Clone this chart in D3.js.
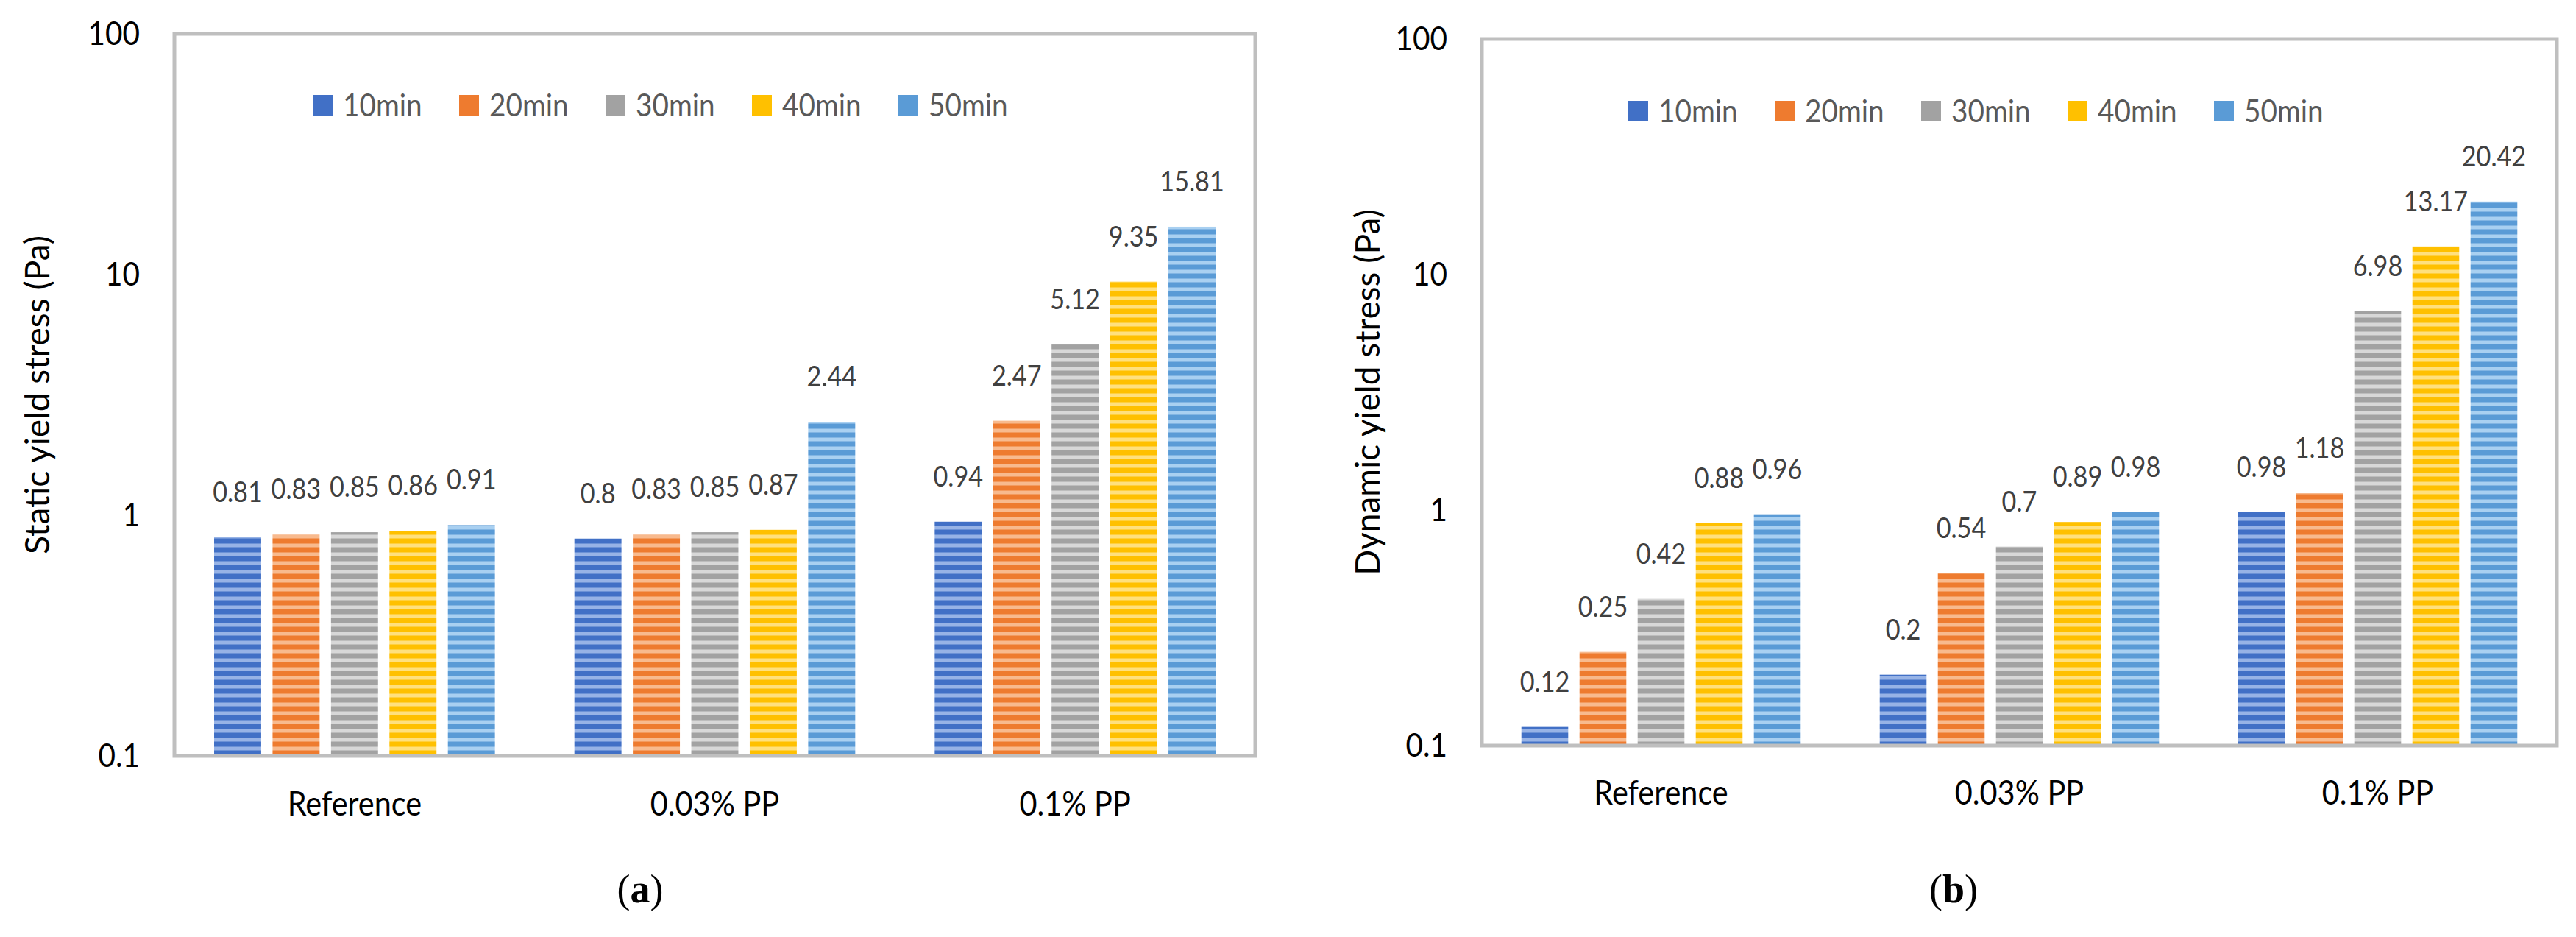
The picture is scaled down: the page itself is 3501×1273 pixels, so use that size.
<!DOCTYPE html>
<html><head><meta charset="utf-8">
<script src="https://cdn.jsdelivr.net/npm/d3@7"></script>
<style>
html,body{margin:0;padding:0;background:#fff;}
svg{display:block;}
text{font-family:Lato,"Open Sans",sans-serif;}
</style></head><body>
<svg id="chart" width="3501" height="1273"></svg>
<script>
// ---------- data ----------
const categories = ["Reference", "0.03% PP", "0.1% PP"];
const seriesNames = ["10min", "20min", "30min", "40min", "50min"];
const yTickValues = [0.1, 1, 10, 100];
// (a) static yield stress (Pa), one array per series (values per category)
const static10min = [0.81, 0.8, 0.94];
const static20min = [0.83, 0.83, 2.47];
const static30min = [0.85, 0.85, 5.12];
const static40min = [0.86, 0.87, 9.35];
const static50min = [0.91, 2.44, 15.81];
// (b) dynamic yield stress (Pa)
const dynamic10min = [0.12, 0.2, 0.98];
const dynamic20min = [0.25, 0.54, 1.18];
const dynamic30min = [0.42, 0.7, 6.98];
const dynamic40min = [0.88, 0.89, 13.17];
const dynamic50min = [0.96, 0.98, 20.42];
const yTitles = ["Static yield stress (Pa)", "Dynamic yield stress (Pa)"];
const captionLetters = ["a", "b"];

// ---------- style ----------
const darkCols  = ["#4170C6", "#EE7B2F", "#A2A2A2", "#FFC000", "#5A9BD6"];
const lightCols = ["#97B3E6", "#F8BA8E", "#D8D8D8", "#FFE07E", "#A9D0F1"];
const frameCol = "#BFBFBF";

const panels = [
  { series: [static10min, static20min, static30min, static40min, static50min],
    title: yTitles[0], cap: captionLetters[0],
    l: 237, t: 46, r: 1706, b: 1027, legX: 425, legY: 143, catY: 1108,
    titleX: 67, capX: 870 },
  { series: [dynamic10min, dynamic20min, dynamic30min, dynamic40min, dynamic50min],
    title: yTitles[1], cap: captionLetters[1],
    l: 2014, t: 53, r: 3475, b: 1013, legX: 2213, legY: 151, catY: 1093,
    titleX: 1875, capX: 2655 }
];

const svg = d3.select("#chart");
svg.append("rect").attr("width", 3501).attr("height", 1273).attr("fill", "#fff");

// stripe patterns
const defs = svg.append("defs");
seriesNames.forEach((s, i) => {
  const p = defs.append("pattern").attr("id", "pat" + i)
    .attr("patternUnits", "userSpaceOnUse").attr("width", 12).attr("height", 12);
  p.append("rect").attr("width", 12).attr("height", 12).attr("fill", darkCols[i]);
  p.append("rect").attr("y", 6.5).attr("width", 12).attr("height", 5).attr("fill", lightCols[i]);
});

panels.forEach(P => {
  const g = svg.append("g");
  const y = d3.scaleLog().domain([0.1, 100]).range([P.b, P.t]);
  const x0 = d3.scaleBand().domain(categories).range([P.l, P.r]).padding(0);
  const x1 = d3.scaleBand().domain(seriesNames).range([0, x0.bandwidth()])
    .paddingInner(0.195).paddingOuter(0.68);

  // bars
  seriesNames.forEach((s, si) => {
    const vals = P.series[si];
    const sg = g.append("g");
    sg.selectAll("rect").data(categories).join("rect")
      .attr("x", c => x0(c) + x1(s))
      .attr("y", (c, ci) => y(vals[ci]))
      .attr("width", x1.bandwidth())
      .attr("height", (c, ci) => y(0.1) - y(vals[ci]))
      .attr("fill", "url(#pat" + si + ")");
    sg.selectAll("text").data(categories).join("text")
      .attr("class", "cmp")
      .attr("x", c => x0(c) + x1(s) + x1.bandwidth() / 2)
      .attr("y", (c, ci) => y(vals[ci]) - 48)
      .attr("text-anchor", "middle")
      .attr("font-size", 38).attr("fill", "#404040")
      .text((c, ci) => String(vals[ci]));
  });

  // frame
  g.append("rect").attr("x", P.l).attr("y", P.t)
    .attr("width", P.r - P.l).attr("height", P.b - P.t)
    .attr("fill", "none").attr("stroke", frameCol).attr("stroke-width", 5);

  // y axis
  const ax = g.append("g").attr("transform", `translate(${P.l},0)`)
    .call(d3.axisLeft(y).tickValues(yTickValues).tickSize(0).tickPadding(47)
      .tickFormat(d => String(d)));
  ax.select(".domain").remove();
  ax.selectAll("text").attr("class", "cmp").attr("font-size", 45)
    .attr("fill", "#000").style("font-family", "Lato");

  // category labels
  g.selectAll(".cat").data(categories).join("text")
    .attr("class", "cmp")
    .attr("x", c => x0(c) + x0.bandwidth() / 2).attr("y", P.catY)
    .attr("text-anchor", "middle").attr("font-size", 46).attr("fill", "#000")
    .text(c => c);

  // y title
  g.append("text")
    .attr("transform", `translate(${P.titleX},${(P.t + P.b) / 2}) rotate(-90)`)
    .attr("text-anchor", "middle").attr("font-size", 46).attr("fill", "#000")
    .text(P.title);

  // legend
  const lg = g.append("g").attr("transform", `translate(${P.legX},${P.legY})`);
  seriesNames.forEach((s, si) => {
    const it = lg.append("g").attr("transform", `translate(${si * 199},0)`);
    it.append("rect").attr("x", 0).attr("y", -14).attr("width", 27).attr("height", 28)
      .attr("fill", darkCols[si]);
    it.append("text").attr("class", "cmp").attr("x", 41).attr("y", 15)
      .attr("font-size", 43).attr("fill", "#595959").text(s);
  });

  // caption
  const cap = svg.append("text").attr("x", P.capX).attr("y", 1226)
    .attr("text-anchor", "middle").attr("font-size", 54)
    .style("font-family", "'Liberation Serif','DejaVu Serif',serif").attr("fill", "#000");
  cap.append("tspan").text("(");
  cap.append("tspan").attr("font-weight", "bold").text(P.cap);
  cap.append("tspan").text(")");
});

// horizontal compression to match the narrow lettering of the original
svg.selectAll("text.cmp").each(function () {
  const len = this.getComputedTextLength();
  d3.select(this).attr("textLength", len * 0.9).attr("lengthAdjust", "spacingAndGlyphs");
});
</script>
</body></html>
